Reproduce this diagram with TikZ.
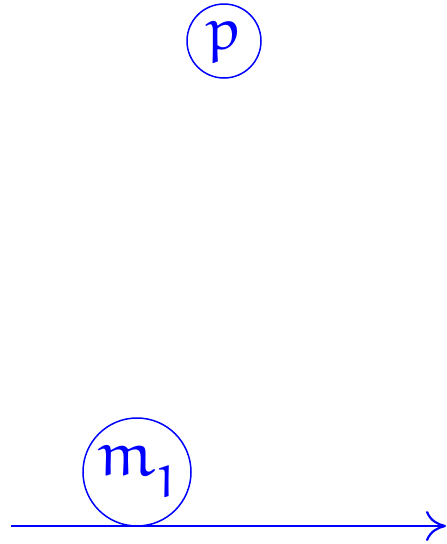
\documentclass[tikz,border=0pt]{standalone}
\usepackage{amsfonts}
\usetikzlibrary{arrows.meta}
\DeclareMathAlphabet{\mathEu}{U}{eur}{m}{n}
\tikzset{
  circ/.style={draw=blue, text=blue, circle, line width=1.5pt, inner sep=0pt, font=\fontsize{60}{62}\selectfont},
  axis/.style={draw=blue, line width=2.2pt, -{To[length=20pt,width=30pt]}}
}
\begin{document}
\begin{tikzpicture}[x=1pt,y=-1pt]
\useasboundingbox (0,0) rectangle (447,544);
\node[circ, minimum size=74pt] (p) at (224,41) {$\mathEu{p}$};
\node[circ, minimum size=108pt, font=\fontsize{64}{66}\selectfont] (m) at (137,472) {$\mathEu{m}_{\mathEu{1}}$};
\coordinate (s) at (11,526);
\coordinate (e) at (446,526);
\draw[axis] (s) -- (e);
\end{tikzpicture}
\end{document}
